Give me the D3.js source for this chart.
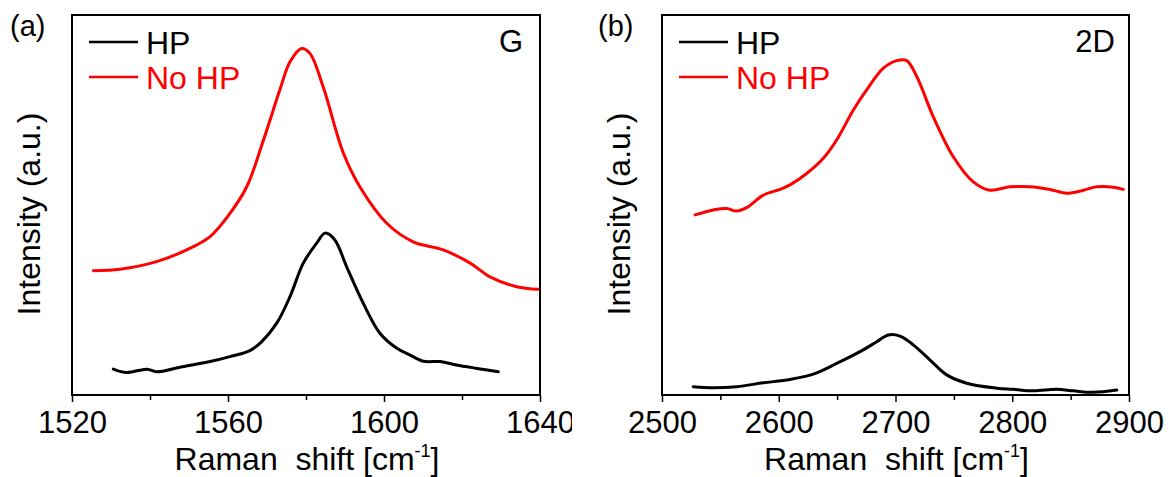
<!DOCTYPE html>
<html>
<head>
<meta charset="utf-8">
<script src="https://cdn.jsdelivr.net/npm/d3@7"></script>
<style>
    body { margin: 0; background: #fff; }
    svg { display: block; font-family: "Liberation Sans", Arial, sans-serif; }
    .frame { fill: none; stroke: #000; stroke-width: 2; }
    .spectrum { fill: none; stroke-width: 3; stroke-linejoin: round; stroke-linecap: round; }
</style>
</head>
<body>
<script>
// G band, panel (a)
var gHpShift = [1530.6, 1534.0, 1539.2, 1541.7, 1547.7, 1555.4, 1560.5, 1565.6, 1568.6, 1572.5, 1575.9,
    1579.3, 1582.7, 1584.9, 1587.4, 1590.4, 1594.7, 1599.0, 1603.3, 1606.7, 1610.1, 1614.4, 1618.6, 1623.8, 1629.3];
var gHpInt = [6.8, 5.9, 6.8, 6.1, 7.3, 8.8, 10.1, 11.7, 14.0, 18.9, 25.9,
    34.7, 39.9, 42.6, 40.8, 33.8, 24.1, 16.2, 12.3, 10.5, 8.9, 8.8, 7.9, 7.0, 6.1];
var gNoHpShift = [1525.5, 1532.3, 1541.7, 1549.4, 1555.4, 1560.5, 1564.8, 1569.1, 1573.3, 1575.9, 1578.9,
    1581.0, 1584.4, 1589.6, 1593.8, 1600.7, 1607.5, 1615.2, 1622.1, 1627.2, 1634.0, 1639.6];
var gNoHpInt = [32.7, 33.1, 35.1, 38.2, 41.7, 47.8, 54.8, 67.1, 80.3, 87.7, 91.2,
    89.9, 81.1, 63.6, 54.8, 45.2, 40.3, 38.2, 34.7, 31.1, 28.5, 27.8];

// 2D band, panel (b)
var dHpShift = [2526.8, 2543.9, 2564.0, 2586.8, 2609.6, 2629.6, 2649.6, 2669.6, 2683.9, 2693.8, 2703.9,
    2715.2, 2729.6, 2743.9, 2761.0, 2786.7, 2800.9, 2818.0, 2838.1, 2852.3, 2869.4, 2889.5];
var dHpInt = [2.2, 1.9, 2.2, 3.2, 4.1, 5.5, 8.3, 11.4, 14.0, 15.8, 15.5,
    13.2, 9.2, 5.3, 3.1, 1.8, 1.5, 1.1, 1.5, 1.1, 0.7, 1.3];
var dNoHpShift = [2528.3, 2543.9, 2555.4, 2564.0, 2572.5, 2586.8, 2601.1, 2609.6, 2623.9, 2638.2, 2649.6,
    2663.9, 2675.3, 2689.6, 2701.0, 2709.6, 2718.2, 2732.4, 2749.5, 2766.6, 2780.9, 2798.1, 2815.2,
    2832.3, 2846.6, 2860.9, 2872.3, 2886.6, 2895.1];
var dNoHpInt = [47.4, 48.7, 49.1, 48.4, 49.3, 52.6, 54.1, 55.3, 58.3, 62.3, 67.1,
    75.0, 80.3, 86.0, 88.0, 88.0, 83.8, 73.2, 62.7, 56.1, 53.9, 54.8, 54.8,
    54.1, 53.1, 53.9, 54.8, 54.7, 54.1];

var gTicks = [1520, 1560, 1600, 1640];
var gMinorTicks = [1540, 1580, 1620];
var dTicks = [2500, 2600, 2700, 2800, 2900];
var dMinorTicks = [2550, 2650, 2750, 2850];
var seriesNames = ['HP', 'No HP'];
var seriesColors = ['#000000', '#ff0000'];

var width = 1170, height = 477;
var svg = d3.select('body').append('svg')
    .attr('width', width)
    .attr('height', height);

function zip(xs, ys) {
    return xs.map((x, i) => [x, ys[i]]);
}

var panels = [
    {
        letter: '(a)', band: 'G', domain: [1520, 1640], ticks: gTicks, minor: gMinorTicks,
        left: 72, right: 540, clip: [0, 572],
        series: [zip(gHpShift, gHpInt), zip(gNoHpShift, gNoHpInt)],
        letterX: 10, labelX: 40, bandX: 523
    },
    {
        letter: '(b)', band: '2D', domain: [2500, 2900], ticks: dTicks, minor: dMinorTicks,
        left: 662, right: 1129, clip: [586, 1170],
        series: [zip(dHpShift, dHpInt), zip(dNoHpShift, dNoHpInt)],
        letterX: 598, labelX: 630, bandX: 1115
    }
];

// note: "top" is taken by window.top, so use plotTop
var plotTop = 15, plotBottom = 395;

panels.forEach(function (p, idx) {
    var clipId = 'panel-clip-' + idx;
    svg.append('clipPath').attr('id', clipId)
        .append('rect')
        .attr('x', p.clip[0]).attr('y', 0)
        .attr('width', p.clip[1] - p.clip[0]).attr('height', height);

    var g = svg.append('g').attr('clip-path', 'url(#' + clipId + ')');

    var x = d3.scaleLinear().domain(p.domain).range([p.left, p.right]);
    var y = d3.scaleLinear().domain([0, 100]).range([plotBottom, plotTop]);

    var line = d3.line()
        .x(d => x(d[0]))
        .y(d => y(d[1]))
        .curve(d3.curveCatmullRom.alpha(0.5));

    // spectra: draw HP first, then No HP
    p.series.forEach(function (s, i) {
        g.append('path')
            .attr('class', 'spectrum')
            .attr('stroke', seriesColors[i])
            .attr('d', line(s));
    });

    // bottom axis with outward ticks
    var axis = d3.axisBottom(x)
        .tickValues(p.ticks)
        .tickSize(7)
        .tickPadding(6)
        .tickFormat(d3.format('d'));
    var axisG = g.append('g')
        .attr('transform', 'translate(0,' + plotBottom + ')')
        .call(axis);
    axisG.select('.domain').remove();
    axisG.selectAll('.tick line').attr('stroke', '#000').attr('stroke-width', 1.5);
    axisG.selectAll('.tick text')
        .attr('font-size', 31)
        .attr('font-family', '"Liberation Sans", Arial, sans-serif')
        .attr('fill', '#000')
        .attr('dy', '0.8em');

    var minorAxis = d3.axisBottom(x)
        .tickValues(p.minor)
        .tickSize(5)
        .tickFormat('');
    var minorG = g.append('g')
        .attr('transform', 'translate(0,' + plotBottom + ')')
        .call(minorAxis);
    minorG.select('.domain').remove();
    minorG.selectAll('.tick line').attr('stroke', '#000').attr('stroke-width', 1.5);

    g.append('rect')
        .attr('class', 'frame')
        .attr('x', p.left).attr('y', plotTop)
        .attr('width', p.right - p.left).attr('height', plotBottom - plotTop);

    // legend
    seriesNames.forEach(function (name, i) {
        var ly = 42 + i * 35;
        g.append('line')
            .attr('x1', p.left + 17).attr('x2', p.left + 66)
            .attr('y1', ly).attr('y2', ly)
            .attr('stroke', seriesColors[i]).attr('stroke-width', 2.5);
        g.append('text')
            .attr('x', p.left + 74).attr('y', ly + 12)
            .attr('font-size', 32)
            .attr('fill', seriesColors[i])
            .text(name);
    });

    g.append('text')
        .attr('x', p.bandX).attr('y', 52)
        .attr('text-anchor', 'end')
        .attr('font-size', 31)
        .text(p.band);

    g.append('text')
        .attr('x', p.letterX).attr('y', 36)
        .attr('font-size', 29)
        .text(p.letter);

    g.append('text')
        .attr('transform', 'translate(' + p.labelX + ',214) rotate(-90)')
        .attr('text-anchor', 'middle')
        .attr('font-size', 32)
        .text('Intensity (a.u.)');

    var title = g.append('text')
        .attr('x', (p.left + p.right) / 2 + 1).attr('y', 470)
        .attr('text-anchor', 'middle')
        .attr('font-size', 32)
        .attr('xml:space', 'preserve');
    title.append('tspan').text('Raman  shift [cm');
    title.append('tspan').attr('font-size', 18).attr('dy', -13).text('-1');
    title.append('tspan').attr('dy', 13).text(']');
});
</script>
</body>
</html>
